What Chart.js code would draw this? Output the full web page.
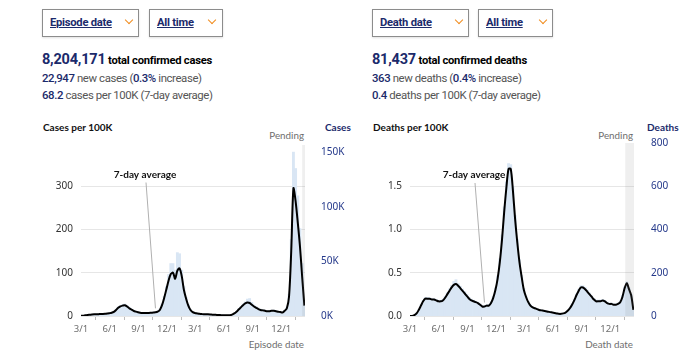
<!DOCTYPE html>
<html>
<head>
<meta charset="utf-8">
<script src="https://cdn.jsdelivr.net/npm/chart.js@4.4.1/dist/chart.umd.min.js"></script>
<style>
  html,body{margin:0;padding:0;background:#fff;}
  body{width:690px;height:356px;position:relative;overflow:hidden;font-family:Roboto,"Noto Sans",sans-serif;}
  .abs{position:absolute;white-space:nowrap;line-height:1.2;}
  .dd{position:absolute;box-sizing:border-box;height:28px;top:9px;border:1px solid #8c8c8c;box-shadow:0 1px 2px rgba(0,0,0,0.12);background:#fff;}
  .dd span{position:absolute;top:6px;font-weight:700;font-size:11.2px;letter-spacing:-0.25px;color:#1b2a6b;text-decoration:underline;}
  .chev{position:absolute;top:7px;width:5px;height:5px;border-right:1.5px solid #f08c1e;border-bottom:1.5px solid #f08c1e;transform:rotate(45deg);}
  .l1{font-size:11.2px;letter-spacing:-0.25px;color:#000;font-weight:700;}
  .l1 .n{font-size:14.5px;letter-spacing:-0.2px;color:#1b2a6b;font-weight:700;}
  .l2{font-size:11.4px;letter-spacing:-0.4px;color:#555;}
  .l2 .n{color:#1b2a6b;font-weight:500;}
  .ct{font-family:Lato,"Noto Sans",sans-serif;font-weight:700;font-size:10px;}
  .small{font-family:Lato,"Noto Sans",sans-serif;font-size:9.8px;color:#6e6e6e;}
  canvas{position:absolute;top:110px;}
</style>
</head>
<body>
<div class="dd" style="left:42px;width:97px;"><span style="left:7px;">Episode date</span><div class="chev" style="left:83px;"></div></div>
<div class="dd" style="left:149px;width:74px;"><span style="left:7px;">All time</span><div class="chev" style="left:59px;"></div></div>
<div class="dd" style="left:372px;width:97px;"><span style="left:7px;">Death date</span><div class="chev" style="left:83px;"></div></div>
<div class="dd" style="left:478px;width:75px;"><span style="left:7px;">All time</span><div class="chev" style="left:61px;"></div></div>

<div class="abs l1" style="left:42px;top:51px;"><span class="n">8,204,171</span> total confirmed cases</div>
<div class="abs l2" style="left:42px;top:72px;"><span class="n">22,947</span> new cases (<span class="n">0.3%</span> increase)</div>
<div class="abs l2" style="left:42px;top:89px;"><span class="n">68.2</span> cases per 100K (7-day average)</div>

<div class="abs l1" style="left:372px;top:51px;"><span class="n">81,437</span> total confirmed deaths</div>
<div class="abs l2" style="left:372px;top:72px;"><span class="n">363</span> new deaths (<span class="n">0.4%</span> increase)</div>
<div class="abs l2" style="left:372px;top:89px;"><span class="n">0.4</span> deaths per 100K (7-day average)</div>

<div class="abs ct" style="left:43px;top:121px;color:#111;">Cases per 100K</div>
<div class="abs ct" style="left:325px;top:121px;color:#1b2a6b;">Cases</div>
<div class="abs small" style="right:386px;top:130px;">Pending</div>
<div class="abs small" style="right:386px;top:339px;">Episode date</div>

<div class="abs ct" style="left:373px;top:121px;color:#111;">Deaths per 100K</div>
<div class="abs ct" style="left:647px;top:121px;color:#1b2a6b;">Deaths</div>
<div class="abs small" style="right:57px;top:130px;">Pending</div>
<div class="abs small" style="right:57px;top:339px;">Death date</div>

<canvas id="c1" width="345" height="246" style="left:0px;width:345px;height:246px;"></canvas>
<canvas id="c2" width="345" height="246" style="left:345px;width:345px;height:246px;"></canvas>

<script>
// ---- DATA ----
// x positions: days since 3/1/2020, one sample per week
const weekStepDays = 7;
const xTickDays   = [0, 92, 184, 275, 365, 457, 549, 640];
const xTickLabels = ['3/1','6/1','9/1','12/1','3/1','6/1','9/1','12/1'];

// Cases: 7-day average per 100K (line)
const casesAvgPer100K = [
  0.3,0.8,1.8,2.5,3.0,3.5,3.8,4.0,4.3,4.5,4.8,5.2,5.8,6.5,7.5,9.5,14,19,22,24,
  25,22,18,15,12,10,8.5,7.5,7,7,7,7,7.5,8,8.5,10,14,25,42,62,
  82,97,100,86,105,110,92,60,40,24,14,9,7,6,5,4.5,4,4,3.8,3.5,
  3,2.8,2.5,2.2,2,1.8,1.7,1.6,1.8,3,6,10,15,20,25,29,31,30,26,22,
  19,16,14,13,12,11,11,12,12,11,10,9,8,12,18,45,150,295,265,215,
  160,90,24
];
// Cases: daily new cases (bars)
const casesDaily = [
  200,450,900,1200,1400,1600,1700,1800,2000,2000,2200,2300,2600,3000,3400,4300,6200,8300,9500,10500,
  11000,9800,8000,6600,5300,4400,3800,3300,3100,3100,3100,3100,3300,3500,3800,4500,6300,11000,18000,27000,
  38000,48000,48000,42000,58000,57000,42000,27000,17000,10500,6200,4000,3100,2600,2200,2000,1800,1800,1700,1500,
  1300,1200,1100,1000,900,800,750,700,800,1300,2600,4400,6600,8800,11000,13000,15500,16000,12500,10000,
  8500,7200,6300,5800,5300,4900,4900,5300,5400,4900,4400,4000,3600,5300,8000,20000,70000,150000,135000,110000,
  80000,48000,14000
];
// Deaths: 7-day average per 100K (line)
const deathsAvgPer100K = [
  0,0,0.01,0.03,0.07,0.12,0.17,0.2,0.2,0.2,0.19,0.19,0.18,0.17,0.17,0.18,0.21,0.25,0.29,0.33,
  0.36,0.37,0.35,0.32,0.29,0.26,0.23,0.2,0.18,0.17,0.16,0.15,0.13,0.11,0.11,0.12,0.12,0.15,0.21,0.3,
  0.43,0.62,0.88,1.2,1.48,1.7,1.7,1.45,1.12,0.85,0.62,0.45,0.3,0.22,0.16,0.12,0.1,0.09,0.08,0.07,
  0.065,0.06,0.055,0.05,0.045,0.04,0.035,0.03,0.025,0.025,0.03,0.04,0.06,0.09,0.13,0.18,0.24,0.29,0.33,0.33,
  0.31,0.28,0.25,0.22,0.19,0.17,0.17,0.17,0.18,0.17,0.15,0.14,0.14,0.13,0.13,0.14,0.16,0.22,0.32,0.38,
  0.31,0.24,0.07
];
// Deaths: daily deaths (bars)
const deathsDaily = [
  0,2,5,14,30,52,72,85,86,84,80,80,76,72,72,78,90,108,125,142,
  160,168,150,138,125,112,100,86,78,73,68,64,56,48,47,52,53,65,90,130,
  185,265,375,505,620,705,700,600,465,355,260,188,128,92,68,52,43,38,34,30,
  28,26,24,22,19,17,15,13,11,11,13,17,26,38,56,78,102,124,140,140,
  132,120,106,94,82,74,74,74,76,72,65,60,60,56,56,60,70,95,135,158,
  130,100,35
];

const casesLeftTicks  = [0, 100, 200, 300];
const casesRightTicks = [0, 50000, 100000, 150000];
const deathsLeftTicks  = [0, 0.5, 1.0, 1.5];
const deathsRightTicks = [0, 200, 400, 600, 800];

// ---- CHARTS ----
const FONT = '"Noto Sans", sans-serif';
const LFONT = 'Lato, "Noto Sans", sans-serif';
const BAR_COLOR = '#d9e6f4';
const NAVY = '#24388a';

function toXY(arr){ return arr.map((v,i)=>({x:i*weekStepDays, y:v})); }

const pendingPlugin = {
  id:'pending',
  afterDatasetsDraw(chart, args, opts){
    const {ctx, chartArea:a, scales:{x}} = chart;
    const x0 = x.getPixelForValue(opts.fromDay);
    ctx.save();
    ctx.fillStyle = 'rgba(120,120,120,0.12)';
    ctx.fillRect(x0, a.top, a.right - x0, a.bottom - a.top);
    ctx.restore();
  }
};
const annotPlugin = {
  id:'annot',
  afterDraw(chart, args, opts){
    const {ctx, chartArea:a} = chart;
    const meta = chart.getDatasetMeta(0);
    const pt = meta.data[opts.index];
    const lx = a.left + opts.dx, ly = a.top + opts.dy;
    ctx.save();
    ctx.strokeStyle = '#b0b0b0';
    ctx.lineWidth = 1;
    ctx.beginPath();
    ctx.moveTo(lx + 1, ly + 8);
    ctx.lineTo(pt.x, pt.y - 4);
    ctx.stroke();
    ctx.font = 'bold 10px ' + LFONT;
    ctx.fillStyle = '#111';
    ctx.textAlign = 'center';
    ctx.textBaseline = 'middle';
    ctx.fillText(opts.text, lx, ly);
    ctx.restore();
  }
};

function makeChart(id, cfg){
  return new Chart(document.getElementById(id), {
    type:'bar',
    data:{
      datasets:[
        {type:'line', data: toXY(cfg.line), yAxisID:'yL', borderColor:'#000', borderWidth:2,
         pointRadius:0, tension:0.3, fill:false},
        {type:'bar', data: toXY(cfg.bars), yAxisID:'yR', backgroundColor:BAR_COLOR,
         barPercentage:1, categoryPercentage:1, borderWidth:0}
      ]
    },
    options:{
      responsive:false, animation:false, devicePixelRatio:1,
      layout:{padding:{top:cfg.padTop, left:0, right:0, bottom:0}},
      plugins:{legend:{display:false}, tooltip:{enabled:false},
        pending:{fromDay:cfg.pendingFrom},
        annot:{text:'7-day average', index:cfg.annotIndex, dx:64, dy:cfg.annotDy}},
      scales:{
        x:{type:'linear', min:0, max:cfg.xMax, offset:false,
           afterBuildTicks:s=>{ s.ticks = xTickDays.map(v=>({value:v})); },
           afterFit:s=>{ s.height = 40; },
           ticks:{autoSkip:false, maxRotation:0, padding:4, color:'#6e6e6e', font:{family:FONT, size:9.5},
             callback:(v)=>{ const i = xTickDays.indexOf(v); return i>=0 ? xTickLabels[i] : ''; }},
           grid:{drawOnChartArea:false, drawTicks:true, tickLength:4, color:'#bbb'},
           border:{display:false}},
        yL:{type:'linear', position:'left', min:0, max:cfg.leftMax,
           afterBuildTicks:s=>{ s.ticks = cfg.leftTicks.map(v=>({value:v})); },
           afterFit:s=>{ s.width = cfg.leftW; },
           ticks:{padding:8, color:'#333', font:{family:FONT, size:10}, callback:cfg.leftFmt},
           grid:{drawTicks:false, color:'#e6e6e6', lineWidth:1},
           border:{display:false}},
        yR:{type:'linear', position:'right', min:0, max:cfg.rightMax,
           afterBuildTicks:s=>{ s.ticks = cfg.rightTicks.map(v=>({value:v})); },
           afterFit:s=>{ s.width = cfg.rightW; },
           ticks:{padding:cfg.rightPad, color:NAVY, font:{family:FONT, size:10}, callback:cfg.rightFmt},
           grid:{display:false, drawTicks:false},
           border:{display:false}}
      }
    },
    plugins:[pendingPlugin, annotPlugin]
  });
}

makeChart('c1', {
  line: casesAvgPer100K, bars: casesDaily,
  leftMax:395, rightMax:156500, leftTicks:casesLeftTicks, rightTicks:casesRightTicks,
  leftFmt:v=>String(v), rightFmt:v=>(v/1000)+'K',
  leftW:81, rightW:40, rightPad:16, padTop:35, xMax:716, pendingFrom:707, annotIndex:34, annotDy:29.5
});
makeChart('c2', {
  line: deathsAvgPer100K, bars: deathsDaily,
  leftMax:2.0, rightMax:800, leftTicks:deathsLeftTicks, rightTicks:deathsRightTicks,
  leftFmt:v=>v.toFixed(1), rightFmt:v=>String(v),
  leftW:65, rightW:56, rightPad:17, padTop:33, xMax:716, pendingFrom:688, annotIndex:34, annotDy:32
});
</script>
</body>
</html>
